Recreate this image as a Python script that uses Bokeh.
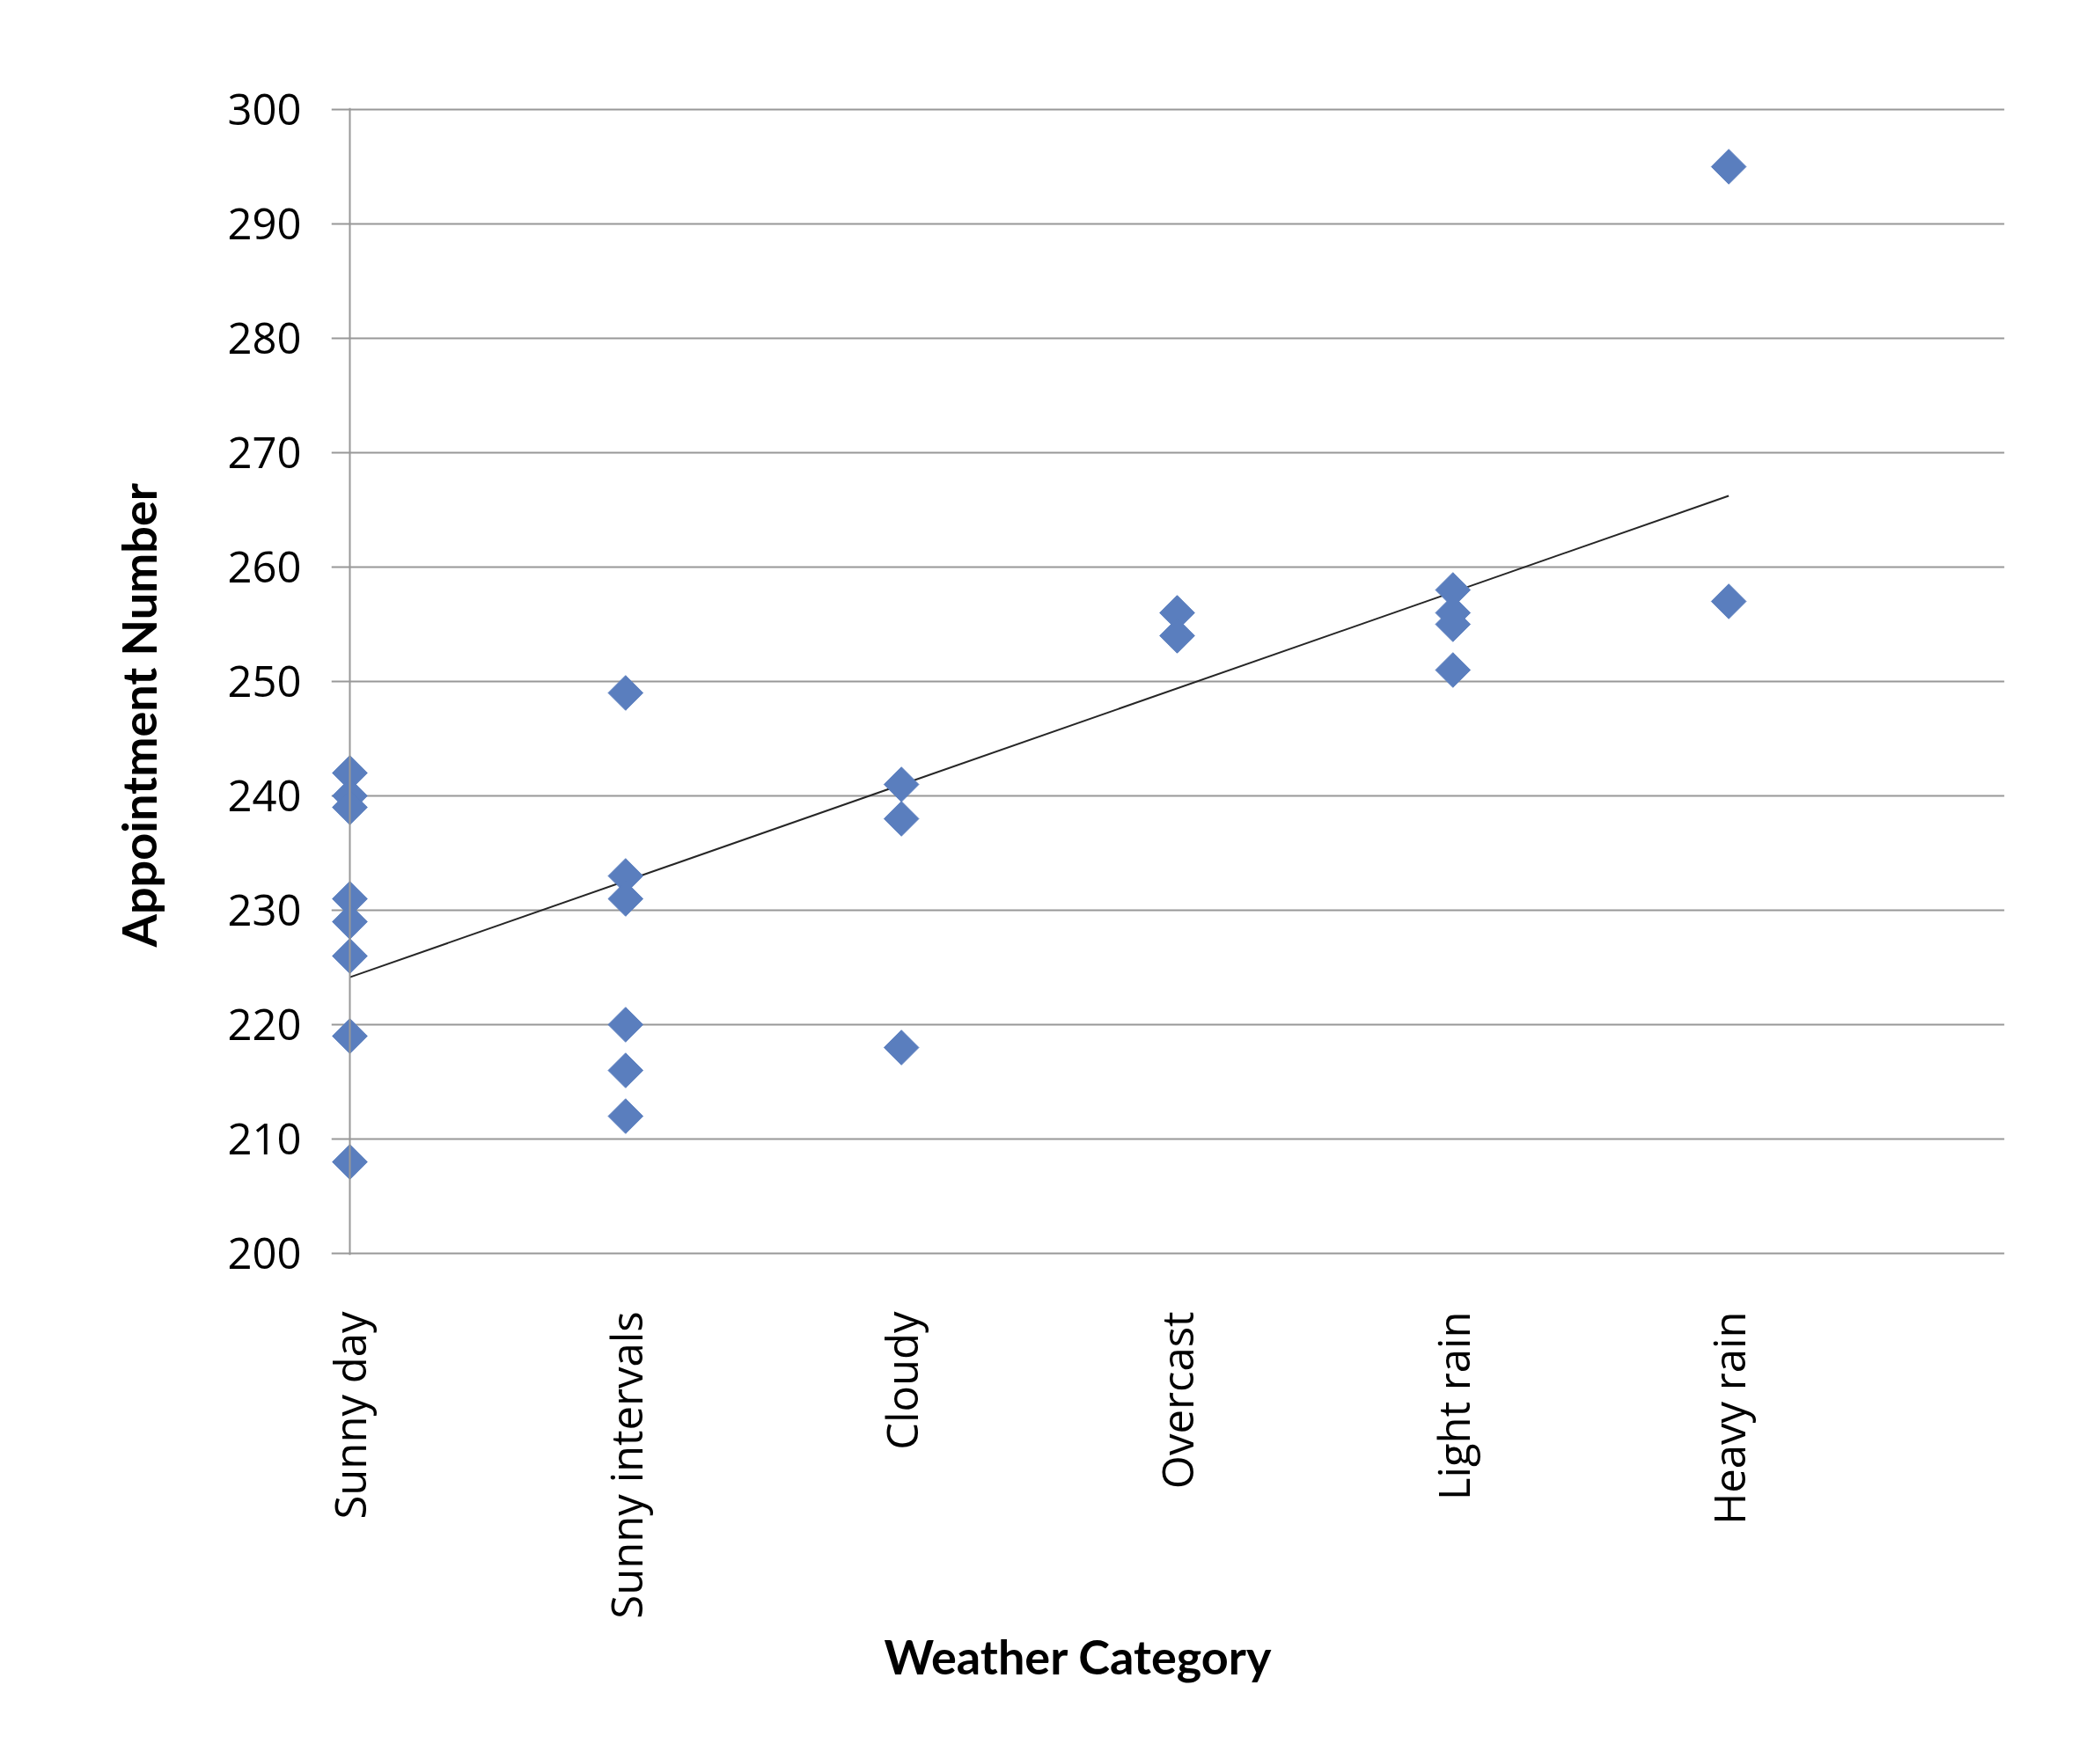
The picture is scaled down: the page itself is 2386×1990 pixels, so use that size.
import numpy as np
from bokeh.plotting import figure
from bokeh.models import Range1d, FixedTicker, Span, Title, ColumnDataSource
from bokeh.embed import file_html
from bokeh.resources import INLINE

# ---- data ----
categories = ["Sunny day", "Sunny intervals", "Cloudy", "Overcast", "Light rain", "Heavy rain"]
sunny_day = [242, 240, 239, 231, 229, 226, 219, 208]
sunny_intervals = [249, 233, 231, 220, 216, 212]
cloudy = [241, 238, 218]
overcast = [256, 254]
light_rain = [258, 256, 255, 251]
heavy_rain = [295, 257]
y_ticks = [200, 210, 220, 230, 240, 250, 260, 270, 280, 290, 300]

groups = [sunny_day, sunny_intervals, cloudy, overcast, light_rain, heavy_rain]
xs, ys = [], []
for i, g in enumerate(groups):
    for v in g:
        xs.append(i + 1)
        ys.append(v)
xs = np.array(xs, dtype=float)
ys = np.array(ys, dtype=float)

slope, intercept = np.polyfit(xs, ys, 1)
tx = np.array([1.0, float(len(categories))])
ty = slope * tx + intercept

GRID = "#989898"

p = figure(width=2386, height=1990, output_backend="svg", toolbar_location=None,
           x_range=Range1d(0.933, 7), y_range=Range1d(199.85, 300.15),
           min_border_left=376, min_border_right=109, min_border_top=122,
           min_border_bottom=564)
p.outline_line_color = None
p.background_fill_color = "white"
p.border_fill_color = "white"

# y axis
p.yaxis.ticker = FixedTicker(ticks=y_ticks)
p.yaxis.axis_line_color = None
p.yaxis.major_tick_line_color = None
p.yaxis.major_tick_out = 0
p.yaxis.major_tick_in = 0
p.yaxis.minor_tick_line_color = None
p.yaxis.major_label_text_font = "Open Sans"
p.yaxis.major_label_text_font_size = "49px"
p.yaxis.major_label_text_color = "black"
p.yaxis.major_label_standoff = 34

# x axis
p.xaxis.ticker = FixedTicker(ticks=list(range(1, len(categories) + 1)))
p.xaxis.major_label_overrides = {i + 1: c for i, c in enumerate(categories)}
p.xaxis.major_label_orientation = np.pi / 2
p.xaxis.axis_line_color = None
p.xaxis.major_tick_line_color = None
p.xaxis.major_tick_out = 0
p.xaxis.minor_tick_line_color = None
p.xaxis.major_label_text_font = "Open Sans"
p.xaxis.major_label_text_font_size = "49px"
p.xaxis.major_label_text_color = "black"
p.xaxis.major_label_standoff = 64

p.xgrid.grid_line_color = None
p.ygrid.grid_line_color = GRID
p.ygrid.grid_line_width = 2

# vertical value axis line at the first category
p.add_layout(Span(location=1, dimension="height", line_color=GRID, line_width=2))

# trend line
p.line(tx, ty, line_color="#262626", line_width=2)

# points
src = ColumnDataSource(dict(x=xs, y=ys))
p.scatter("x", "y", source=src, marker="square", angle=np.pi / 4, size=28,
          fill_color="#5A7EBE", line_color="#5A7EBE", line_width=1)

# axis titles
p.add_layout(Title(text="Weather Category", align="left", offset=628,
                   text_font="Lato", text_font_style="bold", text_font_size="54px",
                   text_color="black", standoff=10), "below")
p.add_layout(Title(text="Appointment Number", align="left", offset=350,
                   text_font="Lato", text_font_style="bold", text_font_size="54px",
                   text_color="black", standoff=132), "left")

open("out.html", "w").write(file_html(p, INLINE))
